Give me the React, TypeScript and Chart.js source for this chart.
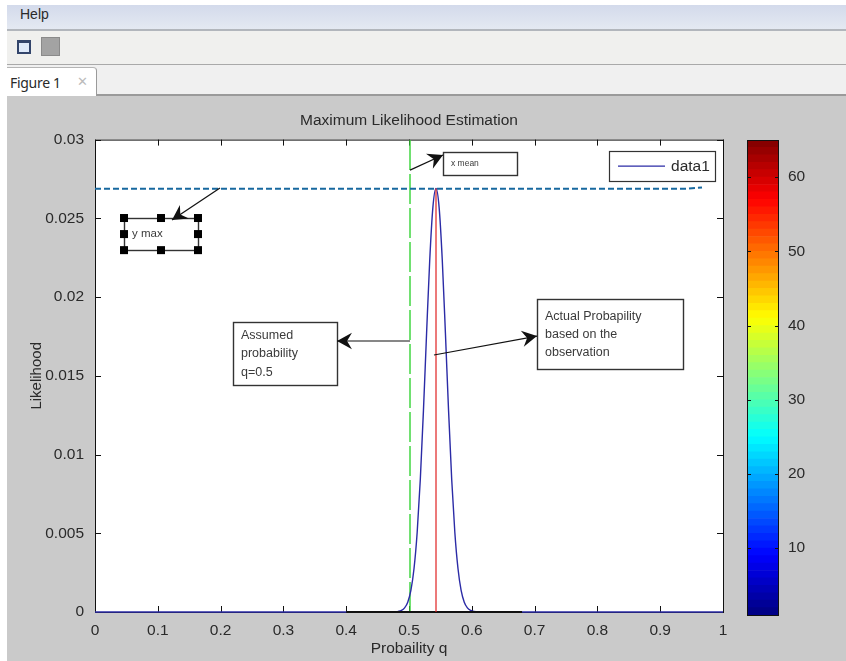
import React, { useEffect, useRef } from "react";
import { Chart, registerables } from "chart.js";

Chart.register(...registerables);

const curveQ = [0.40, 0.468, 0.478, 0.483, 0.488, 0.493, 0.498, 0.503, 0.508, 0.513, 0.518, 0.523, 0.528, 0.533, 0.538, 0.543, 0.548, 0.553, 0.558, 0.563, 0.568, 0.573, 0.578, 0.583, 0.588, 0.593, 0.598, 0.61, 0.68];
const curveLikelihood = [0, 0, 0.00002, 0.00004, 0.0001, 0.00026, 0.00062, 0.00137, 0.00276, 0.00505, 0.00841, 0.01279, 0.0177, 0.02234, 0.02568, 0.0269, 0.02568, 0.02234, 0.0177, 0.01279, 0.00841, 0.00505, 0.00276, 0.00137, 0.00062, 0.00026, 0.0001, 0.00001, 0];
const baselineQ = [0, 1];
const baselineLikelihood = [0, 0];
const thickBaselineQ = [0.4, 0.68];
const thickBaselineLikelihood = [0, 0];
const yMaxQ = [0, 0.9427, 0.9666];
const yMaxLikelihood = [0.02688, 0.02688, 0.02696];
const assumedQ = [0.5016, 0.5016];
const assumedLikelihood = [0, 0.03];
const meanQ = [0.543, 0.543];
const meanLikelihood = [0, 0.0269];
const colorLevels = [1, 2, 3, 4, 5, 6, 7, 8, 9, 10, 11, 12, 13, 14, 15, 16, 17, 18, 19, 20, 21, 22, 23, 24, 25, 26, 27, 28, 29, 30, 31, 32, 33, 34, 35, 36, 37, 38, 39, 40, 41, 42, 43, 44, 45, 46, 47, 48, 49, 50, 51, 52, 53, 54, 55, 56, 57, 58, 59, 60, 61, 62, 63, 64];

const FONT = "'Liberation Sans', Arial, sans-serif";
const GRAY = "#cacaca";
const TEXT = "#2a2a2a";

type Box = { x0: number; x1: number; y0: number; y1: number; lines: string[]; size: number; lineGap: number; handles?: boolean };
const boxes: Box[] = [
  { x0: 0.0462, x1: 0.164, y0: 0.02502, y1: 0.02298, lines: ["y max"], size: 11.5, lineGap: 12, handles: true },
  { x0: 0.5541, x1: 0.672, y0: 0.02921, y1: 0.02775, lines: ["x mean"], size: 8.5, lineGap: 10 },
  { x0: 0.7038, x1: 0.9363, y0: 0.01987, y1: 0.01543, lines: ["Actual Probapility", "based on the", "observation"], size: 12.5, lineGap: 18 },
  { x0: 0.2197, x1: 0.3854, y0: 0.01841, y1: 0.01441, lines: ["Assumed", "probability", "q=0.5"], size: 12.5, lineGap: 18.5 },
];
const arrows = [
  { x0: 0.199, y0: 0.02692, x1: 0.1226, y1: 0.02489 },
  { x0: 0.5016, y0: 0.02806, x1: 0.5541, y1: 0.02902 },
  { x0: 0.5398, y0: 0.01632, x1: 0.7038, y1: 0.01752 },
  { x0: 0.5016, y0: 0.01721, x1: 0.3854, y1: 0.01721 },
];

function jet(level: number) {
  const v = (level - 0.5) / 64;
  const c = (t: number) => Math.round(255 * Math.max(0, Math.min(1, 1.5 - Math.abs(4 * v - t))));
  return `rgb(${c(3)},${c(2)},${c(1)})`;
}

function inwardTicks(ctx: CanvasRenderingContext2D, chart: any, scaleId: string, len: number) {
  const s = chart.scales[scaleId];
  const a = chart.chartArea;
  ctx.strokeStyle = "#111";
  ctx.lineWidth = 1;
  ctx.beginPath();
  s.ticks.forEach((t: any) => {
    const p = Math.round(s.getPixelForValue(t.value)) + 0.5;
    if (s.isHorizontal()) {
      ctx.moveTo(p, a.bottom); ctx.lineTo(p, a.bottom - len);
      ctx.moveTo(p, a.top); ctx.lineTo(p, a.top + len);
    } else {
      ctx.moveTo(a.left, p); ctx.lineTo(a.left + len, p);
      ctx.moveTo(a.right, p); ctx.lineTo(a.right - len, p);
    }
  });
  ctx.stroke();
}

const figurePlugin = {
  id: "figure",
  beforeDatasetsDraw(chart: any) {
    const { ctx, chartArea: a } = chart;
    ctx.save();
    ctx.fillStyle = "#fff";
    ctx.fillRect(a.left, a.top, a.width, a.height);
    ctx.strokeStyle = "#111";
    ctx.lineWidth = 1;
    ctx.strokeRect(a.left + 0.5, a.top + 0.5, a.width, a.height);
    inwardTicks(ctx, chart, "x", 6);
    inwardTicks(ctx, chart, "y", 6);
    ctx.restore();
  },
  afterDatasetsDraw(chart: any) {
    const { ctx, scales } = chart;
    const X = (v: number) => scales.x.getPixelForValue(v);
    const Y = (v: number) => scales.y.getPixelForValue(v);
    ctx.save();

    boxes.forEach((b) => {
      const x = X(b.x0), y = Y(b.y0), w = X(b.x1) - x, h = Y(b.y1) - y;
      ctx.strokeStyle = "#333";
      ctx.lineWidth = 1.4;
      if (!b.handles) {
        ctx.fillStyle = "#fff";
        ctx.fillRect(x, y, w, h);
      }
      ctx.strokeRect(Math.round(x) + 0.5, Math.round(y) + 0.5, Math.round(w), Math.round(h));
      if (b.handles) {
        ctx.fillStyle = "#000";
        [0, 0.5, 1].forEach((fx) => [0, 0.5, 1].forEach((fy) => {
          if (fx === 0.5 && fy === 0.5) return;
          ctx.fillRect(x + w * fx - 4, y + h * fy - 4, 8, 8);
        }));
      }
      ctx.fillStyle = "#3a3a3a";
      ctx.font = `${b.size}px ${FONT}`;
      ctx.textAlign = "left";
      ctx.textBaseline = "middle";
      const top = y + h / 2 - ((b.lines.length - 1) * b.lineGap) / 2;
      b.lines.forEach((l, i) => ctx.fillText(l, x + 8, top + i * b.lineGap));
    });

    arrows.forEach((r) => {
      const x0 = X(r.x0), y0 = Y(r.y0), x1 = X(r.x1), y1 = Y(r.y1);
      const ang = Math.atan2(y1 - y0, x1 - x0);
      ctx.strokeStyle = "#111";
      ctx.lineWidth = 1.2;
      ctx.beginPath();
      ctx.moveTo(x0, y0);
      ctx.lineTo(x1, y1);
      ctx.stroke();
      ctx.fillStyle = "#111";
      ctx.beginPath();
      ctx.moveTo(x1, y1);
      ctx.lineTo(x1 - 17 * Math.cos(ang - 0.5), y1 - 17 * Math.sin(ang - 0.5));
      ctx.lineTo(x1 - 10 * Math.cos(ang), y1 - 10 * Math.sin(ang));
      ctx.lineTo(x1 - 17 * Math.cos(ang + 0.5), y1 - 17 * Math.sin(ang + 0.5));
      ctx.closePath();
      ctx.fill();
    });

    // legend, from the data1 dataset
    const ds = chart.data.datasets.find((d: any) => d.label === "data1");
    const lx = X(0.8185), ly = Y(0.0293), lw = X(0.9875) - lx, lh = Y(0.0274) - ly;
    ctx.fillStyle = "#fff";
    ctx.fillRect(lx, ly, lw, lh);
    ctx.strokeStyle = "#333";
    ctx.lineWidth = 1.2;
    ctx.strokeRect(Math.round(lx) + 0.5, Math.round(ly) + 0.5, Math.round(lw), Math.round(lh));
    ctx.strokeStyle = ds.borderColor;
    ctx.beginPath();
    ctx.moveTo(lx + 9, ly + lh / 2 + 0.5);
    ctx.lineTo(lx + 56, ly + lh / 2 + 0.5);
    ctx.stroke();
    ctx.fillStyle = TEXT;
    ctx.font = `15.5px ${FONT}`;
    ctx.textAlign = "left";
    ctx.textBaseline = "middle";
    ctx.fillText(ds.label, lx + 62, ly + lh / 2 + 1);
    ctx.restore();
  },
};

const barPlugin = {
  id: "barFrame",
  afterDatasetsDraw(chart: any) {
    const { ctx, chartArea: a } = chart;
    ctx.save();
    ctx.strokeStyle = "#111";
    ctx.lineWidth = 1;
    ctx.strokeRect(a.left + 0.5, a.top + 0.5, a.width - 1, a.height);
    inwardTicks(ctx, chart, "y", 4);
    ctx.restore();
  },
};

const pts = (xs: number[], ys: number[]) => xs.map((x, i) => ({ x, y: ys[i] }));
const tickText = (v: any) => String(Number(Number(v).toFixed(3)));

export default function App() {
  const mainRef = useRef<HTMLCanvasElement>(null);
  const barRef = useRef<HTMLCanvasElement>(null);
  useEffect(() => {
    document.body.style.margin = "0";
    document.body.style.background = "#fff";
    const line = (label: string, xs: number[], ys: number[], color: string, width: number, dash: number[] = []) => ({
      type: "line" as const, label, data: pts(xs, ys), borderColor: color, borderWidth: width,
      borderDash: dash, pointRadius: 0, tension: 0, fill: false, clip: false,
    });
    const main = new Chart(mainRef.current!, {
      type: "line",
      data: {
        datasets: [
          line("mean", meanQ, meanLikelihood, "#e02020", 1.2),
          line("thick", thickBaselineQ, thickBaselineLikelihood, "#111", 2),
          { ...line("data1", curveQ, curveLikelihood, "#2b2ba6", 1.4), cubicInterpolationMode: "monotone" },
          line("baseline", baselineQ, baselineLikelihood, "#2b2ba6", 1.4),
          line("y max", yMaxQ, yMaxLikelihood, "#17689f", 2, [6, 3]),
          line("assumed", assumedQ, assumedLikelihood, "#35d335", 1.4, [30, 4]),
        ],
      },
      options: {
        responsive: false,
        animation: false,
        layout: { padding: { top: 95, right: 123, left: 0, bottom: 0 } },
        plugins: {
          legend: { display: false },
          tooltip: { enabled: false },
          title: {
            display: true, text: "Maximum Likelihood Estimation", color: TEXT, fullSize: false,
            font: { family: FONT, size: 15.5, weight: "normal" }, padding: { top: 16, bottom: 10 },
          },
        },
        scales: {
          x: {
            type: "linear", min: 0, max: 1,
            afterFit: (s: any) => { s.height = 49; },
            ticks: { stepSize: 0.1, color: TEXT, maxRotation: 0, padding: 1, font: { family: FONT, size: 15.5 }, callback: tickText },
            grid: { display: false },
            border: { display: false },
            title: { display: true, text: "Probaility q", color: TEXT, padding: { top: 0, bottom: 3 }, font: { family: FONT, size: 15.5 } },
          },
          y: {
            type: "linear", min: 0, max: 0.03,
            afterFit: (s: any) => { s.width = 95; },
            ticks: { stepSize: 0.005, color: TEXT, padding: 3, font: { family: FONT, size: 15.5 }, callback: tickText },
            grid: { display: false },
            border: { display: false },
            title: { display: true, text: "Likelihood", color: TEXT, padding: { top: 28, bottom: 0 }, font: { family: FONT, size: 15 } },
          },
        },
      },
      plugins: [figurePlugin],
    } as any);
    const bar = new Chart(barRef.current!, {
      type: "bar",
      data: {
        labels: ["colorbar"],
        datasets: colorLevels.map((lv) => ({
          label: String(lv), data: [[lv, lv + 1]], backgroundColor: jet(lv), borderWidth: 0,
          barPercentage: 1, categoryPercentage: 1, grouped: false,
        })),
      },
      options: {
        responsive: false,
        animation: false,
        layout: { padding: { top: 140, bottom: 46, left: 0, right: 0 } },
        plugins: { legend: { display: false }, tooltip: { enabled: false } },
        scales: {
          x: { display: false },
          y: {
            position: "right", min: 1, max: 65,
            afterFit: (s: any) => { s.width = 67; },
            afterBuildTicks: (s: any) => { s.ticks = [10, 20, 30, 40, 50, 60].map((value) => ({ value })); },
            ticks: { color: TEXT, padding: 1, font: { family: FONT, size: 15.5 } },
            grid: { display: false },
            border: { display: false },
          },
        },
      },
      plugins: [barPlugin],
    } as any);
    return () => { main.destroy(); bar.destroy(); };
  }, []);

  return (
    <div style={{ position: "relative", width: 846, height: 661, overflow: "hidden", background: "#fff", fontFamily: FONT }}>
      <div style={{ position: "absolute", left: 7, right: 0, top: 5, height: 24, background: "linear-gradient(#d3daeb,#e4e9f2)", borderBottom: "2px solid #b2b6bc" }}>
        <span style={{ position: "absolute", left: 13, top: 1, fontSize: 14, color: TEXT }}>Help</span>
      </div>
      <div style={{ position: "absolute", left: 7, right: 0, top: 31, height: 33, background: "#f0f0ee", borderBottom: "1px solid #a9a9a9" }}>
        <div style={{ position: "absolute", left: 10, top: 9, width: 10, height: 9, border: "2px solid #33456b", borderTopWidth: 3, background: "#dfeafa" }} />
        <div style={{ position: "absolute", left: 34, top: 6, width: 17, height: 17, background: "#a3a3a3", border: "1px solid #8a8a8a" }} />
      </div>
      <div style={{ position: "absolute", left: 7, right: 0, top: 65, height: 29, background: "#f0f0f0", borderBottom: "2px solid #9a9a9a" }} />
      <div style={{ position: "absolute", left: 7, top: 67, width: 89, height: 28, background: "#fff", borderRight: "1px solid #9a9a9a", borderTop: "1px solid #b5b5b5", borderRadius: "0 4px 0 0" }}>
        <span style={{ position: "absolute", left: 3, top: 5, fontSize: 14, color: TEXT, fontFamily: "'Noto Sans', sans-serif", letterSpacing: -0.3 }}>Figure 1</span>
        <span style={{ position: "absolute", left: 70, top: 6, fontSize: 13, color: "#bbb" }}>✕</span>
      </div>
      <div style={{ position: "absolute", left: 7, right: 0, top: 96, bottom: 0, background: GRAY }} />
      <canvas ref={mainRef} width={846} height={661} style={{ position: "absolute", left: 0, top: 0 }} />
      <canvas ref={barRef} width={99} height={661} style={{ position: "absolute", left: 747, top: 0 }} />
    </div>
  );
}
